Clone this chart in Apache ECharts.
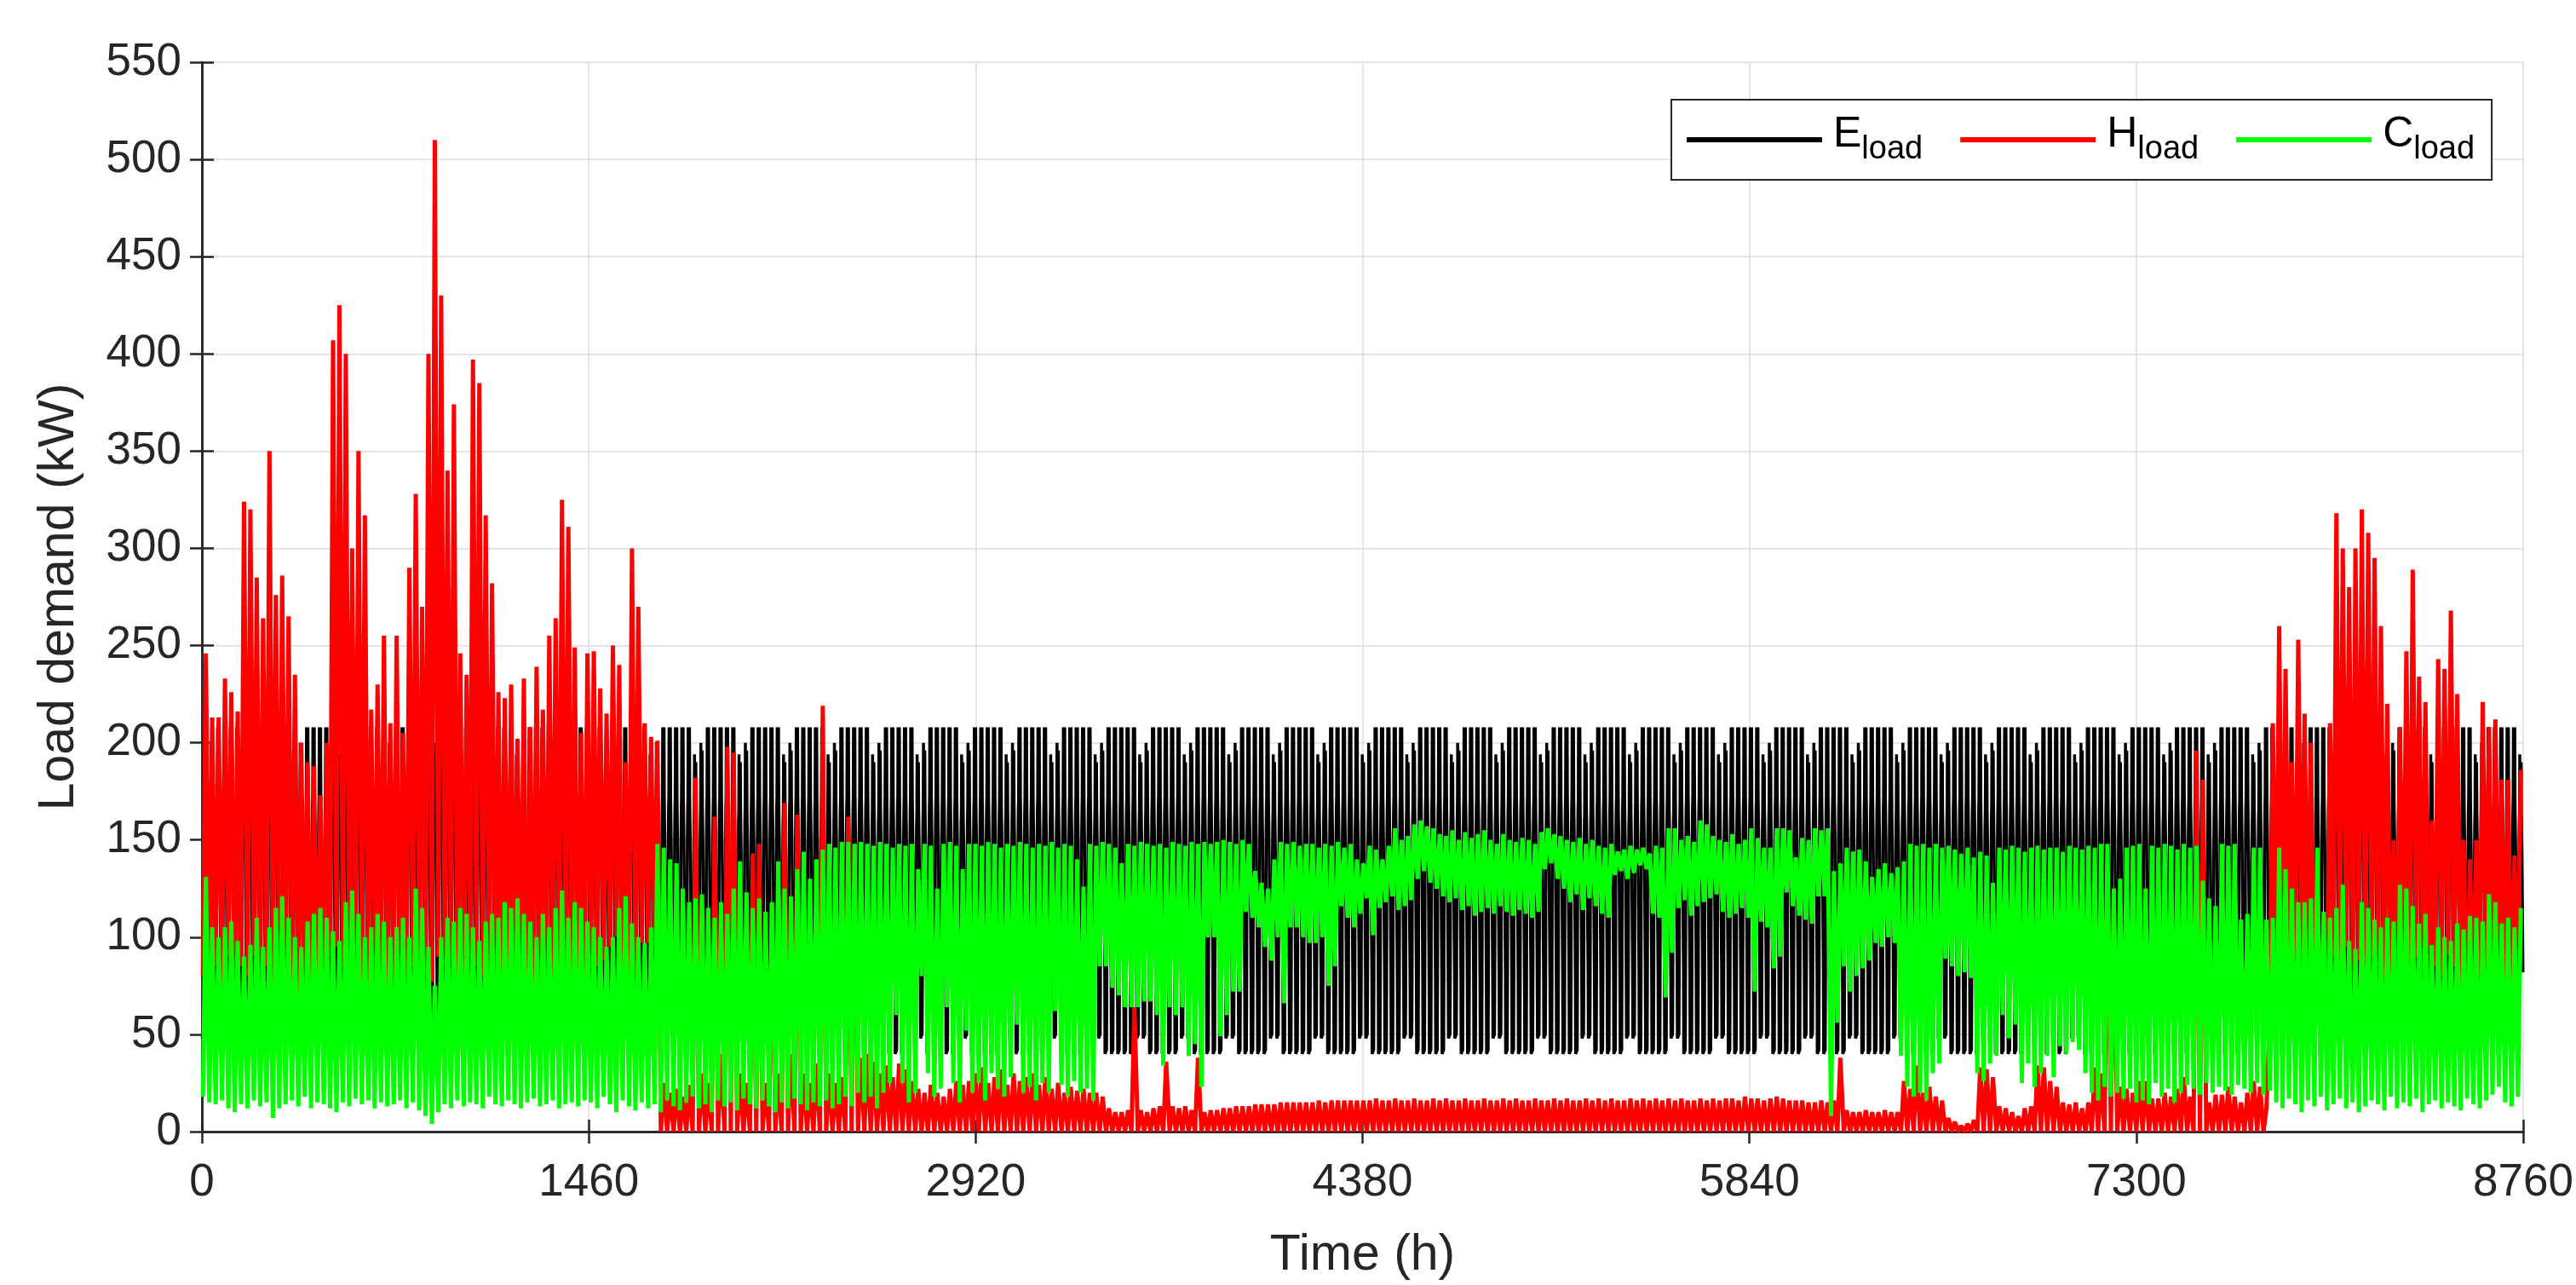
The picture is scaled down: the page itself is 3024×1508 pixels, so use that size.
<!DOCTYPE html>
<html>
<head>
<meta charset="utf-8">
<title>Load demand</title>
<script src="https://cdn.jsdelivr.net/npm/echarts@6/dist/echarts.min.js"></script>
<style>
  html, body { margin: 0; padding: 0; background: #fff; }
  #chart { width: 3024px; height: 1508px; }
</style>
</head>
<body>
<div id="chart"></div>
<script>
// axis ticks
var xTicks = [0, 1460, 2920, 4380, 5840, 7300, 8760];
var yTicks = [0, 50, 100, 150, 200, 250, 300, 350, 400, 450, 500, 550];

// electric load: hourly profile of a work day and the two weekend days (kW)
var eWorkday  = [40,40,40,40,40,40,42,80,150,165,172,208,170,158,165,172,208,172,160,150,135,118,100,80];
var eWeekendA = [48,48,48,48,48,48,50,80,140,158,165,194,165,152,158,165,190,165,155,145,130,115,98,82];
var eWeekendB = [48,48,48,48,48,48,50,80,142,160,168,200,168,155,160,168,196,168,157,147,132,116,99,82];

// heat load: daily max / min (kW), day 0..364
var hMax = [
  246,213,213,233,226,216,324,320,285,264,
  350,276,286,265,235,200,190,188,173,200,
  407,425,400,300,350,317,217,230,255,210,
  255,205,290,328,270,400,510,430,340,374,
  246,235,397,385,317,282,226,223,230,202,
  233,208,239,217,255,264,325,311,249,205,
  246,247,228,215,250,240,190,300,270,210,
  203,201,25,20,22,18,24,182,30,25,
  162,40,198,195,30,25,143,148,25,118,
  30,169,40,163,30,25,35,219,30,25,
  28,162,148,38,40,36,30,34,28,35,
  32,26,22,20,24,20,18,22,26,24,
  26,30,33,25,28,32,24,30,26,28,
  30,24,28,22,25,20,23,21,22,20,
  20,18,12,10,10,11,64,11,10,12,
  13,36,13,12,13,11,38,10,11,11,
  12,12,13,13,13,14,14,14,14,15,
  15,15,15,15,15,16,15,16,16,16,
  16,16,16,16,17,16,16,17,16,16,
  17,16,16,17,16,17,16,16,17,16,
  16,17,16,16,17,16,17,16,16,17,
  16,16,17,16,17,16,16,17,16,17,
  16,17,16,16,17,16,17,16,17,16,
  17,16,17,16,16,17,16,17,16,17,
  17,16,18,17,17,16,17,18,17,16,
  16,16,15,15,16,15,16,38,11,10,
  10,11,10,10,11,10,10,26,22,34,
  20,23,18,16,7,5,3,4,6,33,
  32,28,13,12,10,8,12,13,34,33,
  26,23,15,14,15,12,15,33,30,138,
  120,23,22,20,26,26,17,17,20,18,
  22,28,18,196,181,15,19,19,23,18,
  15,20,26,23,12,210,260,238,190,253,
  215,200,110,110,210,318,300,280,300,320,
  308,295,260,220,150,208,247,289,234,221,
  160,243,238,268,225,150,140,150,221,208,
  212,181,181,142,186
];
var hMin = [
  80,70,85,75,90,65,85,80,90,70,
  85,75,80,70,65,60,55,60,50,65,
  90,95,85,80,88,75,70,80,72,65,
  78,60,80,85,75,80,77,90,85,88,
  70,65,90,85,80,75,70,68,72,60,
  65,24,70,62,75,80,85,82,75,60,
  70,84,85,88,95,100,40,82,82,97,
  97,95,0,0,0,0,0,0,0,0,
  0,0,0,0,0,0,0,0,0,0,
  0,0,0,0,0,0,0,0,0,0,
  0,0,0,0,0,0,0,0,0,0,
  0,0,0,0,0,0,0,0,0,0,
  0,0,0,0,0,0,0,0,0,0,
  0,0,0,0,0,0,0,0,0,0,
  0,0,0,0,0,0,0,0,0,0,
  0,0,0,0,0,0,0,0,0,0,
  0,0,0,0,0,0,0,0,0,0,
  0,0,0,0,0,0,0,0,0,0,
  0,0,0,0,0,0,0,0,0,0,
  0,0,0,0,0,0,0,0,0,0,
  0,0,0,0,0,0,0,0,0,0,
  0,0,0,0,0,0,0,0,0,0,
  0,0,0,0,0,0,0,0,0,0,
  0,0,0,0,0,0,0,0,0,0,
  0,0,0,0,0,0,0,0,0,0,
  0,0,0,0,0,0,0,0,0,0,
  0,0,0,0,0,0,0,0,0,0,
  0,0,0,0,0,0,0,0,0,0,
  0,0,0,0,0,0,0,0,0,0,
  0,0,0,0,0,0,0,0,0,0,
  0,0,0,0,0,0,0,0,0,0,
  0,0,0,0,0,0,0,0,0,0,
  0,0,0,0,0,60,80,75,85,90,
  80,70,40,45,75,90,85,95,80,88,
  76,90,85,80,60,75,85,78,90,82,
  60,85,80,91,85,60,55,65,80,85,
  75,80,70,60,75
];

// cooling load: daily max / min (kW), day 0..364
var cMax = [
  131,105,100,105,108,98,90,96,110,95,
  105,115,121,110,100,95,108,112,115,110,
  103,98,118,124,112,100,105,112,108,100,
  105,110,100,125,115,95,75,100,110,108,
  115,112,105,98,108,112,110,118,115,120,
  112,108,100,112,105,115,124,110,118,115,
  108,105,100,95,100,115,121,107,100,97,
  105,148,146,140,138,125,118,120,122,115,
  110,118,112,125,139,123,115,120,113,118,
  139,125,121,135,144,130,140,145,148,146,
  149,149,148,149,148,147,149,148,146,148,
  147,148,135,148,147,125,148,149,147,135,
  148,148,147,149,148,146,148,147,149,148,
  146,148,147,149,146,148,147,140,126,148,
  147,149,148,146,138,148,147,149,148,147,
  148,146,149,148,147,149,148,149,148,149,
  150,149,148,150,148,134,128,125,140,149,
  148,149,147,148,148,146,148,147,149,146,
  148,140,138,147,145,140,147,156,150,152,
  158,160,157,156,153,152,155,150,154,151,
  153,155,150,148,153,150,149,151,150,148,
  154,156,153,152,150,149,151,148,150,147,
  146,148,144,145,147,145,146,143,147,146,
  156,156,150,152,149,160,158,152,150,149,
  153,148,150,156,151,146,146,156,156,155,
  141,151,150,156,155,156,134,138,146,144,
  145,139,131,135,138,133,136,139,148,147,
  148,146,148,146,147,145,143,146,141,144,
  142,128,146,145,147,146,144,146,147,145,
  146,146,144,147,146,145,147,146,148,148,
  125,130,146,147,148,125,147,146,148,147,
  145,148,146,147,129,120,116,148,147,148,
  109,112,146,146,109,110,146,135,125,118,
  118,120,146,113,110,115,127,98,94,118,
  115,109,105,110,108,127,125,116,107,112,
  96,105,100,98,107,104,111,110,108,122,
  118,107,110,105,115
];
var cMin = [
  18,15,14,16,12,10,14,12,16,13,
  15,7,12,14,16,13,18,12,15,14,
  12,10,15,13,17,14,16,12,15,13,
  14,16,12,15,11,8,4,10,14,12,
  16,13,15,14,12,18,14,13,16,14,
  12,15,17,13,14,16,12,14,15,13,
  16,15,12,18,14,10,16,13,11,15,
  12,14,10,16,13,11,15,18,12,14,
  10,16,13,15,11,17,14,12,16,13,
  10,15,12,17,14,11,15,13,16,12,
  14,18,13,20,15,18,12,20,25,60,
  25,15,20,80,30,18,22,64,25,15,
  52,20,25,16,30,22,18,28,55,20,
  23,16,25,20,62,24,18,26,20,22,
  16,85,85,74,70,64,64,64,67,67,
  60,34,64,60,64,39,45,23,100,100,
  49,60,72,72,113,110,105,95,88,100,
  66,105,105,100,97,97,100,75,85,116,
  110,105,112,120,101,115,118,121,114,116,
  119,130,134,128,125,121,118,120,114,116,
  111,113,115,112,116,113,111,114,112,110,
  113,135,138,130,125,118,122,114,120,116,
  112,110,132,134,130,133,137,135,112,110,
  69,92,115,119,111,116,118,120,122,113,
  110,112,115,110,72,108,105,84,90,123,
  116,111,109,107,121,121,8,56,85,72,
  80,84,88,97,95,100,97,39,23,18,
  20,16,30,35,89,85,80,82,79,30,
  26,35,39,60,48,55,25,35,23,30,
  39,28,44,40,46,42,30,20,16,23,
  18,20,17,22,15,16,14,25,18,22,
  15,20,24,22,19,25,20,23,21,19,
  24,22,20,25,19,21,15,12,17,14,
  10,16,13,18,11,14,17,12,15,10,
  13,16,14,11,18,12,15,13,17,10,
  14,16,12,15,13,11,17,14,12,16,
  19,23,15,13,18
];

var seriesNames = ['E_load', 'H_load', 'C_load'];
var seriesColors = ['#000000', '#ff0000', '#00ff00'];

// hourly electric series from the weekly pattern
var eData = [];
for (var d = 0; d < 365; d++) {
  var prof = d % 7 === 0 ? eWeekendA : (d % 7 === 1 ? eWeekendB : eWorkday);
  for (var h = 0; h < 24; h++) eData.push([d * 24 + h, prof[h]]);
}

// daily min -> max strokes
function dailyStrokes(lo, hi) {
  var out = [];
  for (var i = 0; i < hi.length; i++) {
    out.push([i * 24 + 4, lo[i]]);
    out.push([i * 24 + 15, hi[i]]);
  }
  return out;
}
var hData = dailyStrokes(hMin, hMax);
var cData = dailyStrokes(cMin, cMax);

var font = 'Liberation Sans, Arial, Helvetica, sans-serif';
var ink = '#262626';

var chart = echarts.init(document.getElementById('chart'));

function lineSeries(i, data, width) {
  return {
    name: seriesNames[i],
    type: 'line',
    data: data,
    showSymbol: false,
    symbol: 'none',
    silent: true,
    animation: false,
    color: seriesColors[i],
    lineStyle: { color: seriesColors[i], width: width, join: 'bevel', cap: 'butt' }
  };
}

function plain(v) { return String(v); }

var option = {
  backgroundColor: '#fff',
  animation: false,
  textStyle: { fontFamily: font },
  grid: { left: 237, right: 60, top: 73, bottom: 167 },
  legend: {
    data: seriesNames,
    left: 1962,
    top: 117,
    orient: 'horizontal',
    icon: 'rect',
    itemWidth: 159,
    itemHeight: 6,
    itemGap: 44,
    padding: [16, 20, 16, 18],
    borderColor: ink,
    borderWidth: 2,
    backgroundColor: '#fff',
    formatter: function (name) {
      var p = name.split('_');
      return '{m|' + p[0] + '}{s|' + p[1] + '}';
    },
    textStyle: {
      color: '#000',
      fontFamily: font,
      rich: {
        m: { fontSize: 50, fontFamily: font, color: '#000', verticalAlign: 'top', padding: [0, 0, 0, 8] },
        s: { fontSize: 38, fontFamily: font, color: '#000', verticalAlign: 'bottom', padding: [24, 0, 0, 0] }
      }
    }
  },
  xAxis: [{
    type: 'value',
    position: 'bottom',
    min: xTicks[0],
    max: xTicks[xTicks.length - 1],
    interval: xTicks[1] - xTicks[0],
    name: 'Time (h)',
    nameLocation: 'middle',
    nameGap: 116,
    nameTextStyle: { fontSize: 59, color: ink, fontFamily: font },
    axisLine: { show: true, lineStyle: { color: ink, width: 2.5 } },
    axisTick: { show: true, inside: true, length: 14, lineStyle: { color: ink, width: 2.5 } },
    axisLabel: { fontSize: 53, color: ink, margin: 34, fontFamily: font, formatter: plain },
    splitLine: { show: true, lineStyle: { color: '#dcdcdc', width: 1.5 } }
  }, {
    type: 'value',
    position: 'top',
    min: xTicks[0],
    max: xTicks[xTicks.length - 1],
    interval: xTicks[1] - xTicks[0],
    axisLine: { show: true, lineStyle: { color: ink, width: 2.5 } },
    axisTick: { show: true, inside: true, length: 14, lineStyle: { color: ink, width: 2.5 } },
    axisLabel: { show: false },
    splitLine: { show: false }
  }],
  yAxis: [{
    type: 'value',
    position: 'left',
    min: yTicks[0],
    max: yTicks[yTicks.length - 1],
    interval: yTicks[1] - yTicks[0],
    name: 'Load demand (kW)',
    nameLocation: 'middle',
    nameGap: 138,
    nameTextStyle: { fontSize: 59, color: ink, fontFamily: font },
    axisLine: { show: true, lineStyle: { color: ink, width: 2.5 } },
    axisTick: { show: true, inside: true, length: 14, lineStyle: { color: ink, width: 2.5 } },
    axisLabel: { fontSize: 53, color: ink, margin: 24, fontFamily: font, formatter: plain },
    splitLine: { show: true, lineStyle: { color: '#dcdcdc', width: 1.5 } }
  }, {
    type: 'value',
    position: 'right',
    min: yTicks[0],
    max: yTicks[yTicks.length - 1],
    interval: yTicks[1] - yTicks[0],
    axisLine: { show: true, lineStyle: { color: ink, width: 2.5 } },
    axisTick: { show: true, inside: true, length: 14, lineStyle: { color: ink, width: 2.5 } },
    axisLabel: { show: false },
    splitLine: { show: false }
  }],
  series: [
    lineSeries(0, eData, 3.5),
    lineSeries(1, hData, 5),
    lineSeries(2, cData, 5)
  ]
};

chart.setOption(option);
</script>
</body>
</html>
